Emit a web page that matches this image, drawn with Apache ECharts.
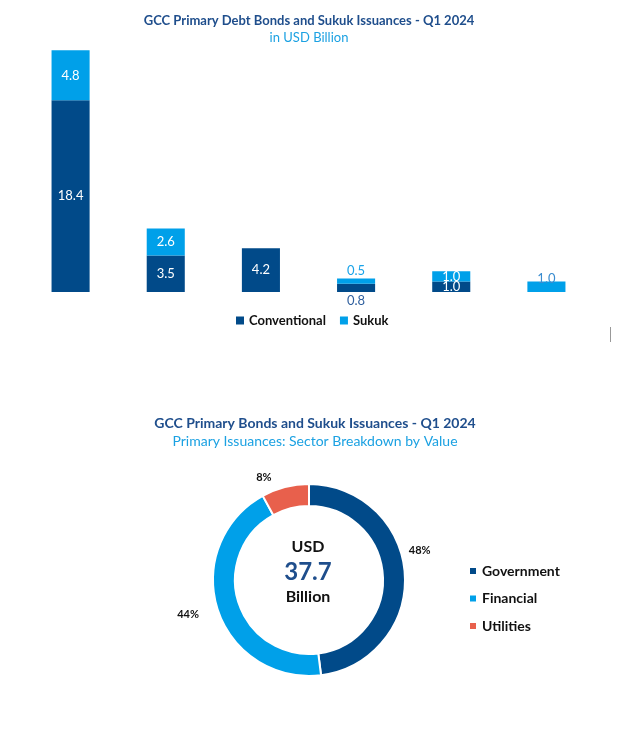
<!DOCTYPE html>
<html>
<head>
<meta charset="utf-8">
<script src="https://cdn.jsdelivr.net/npm/echarts@6/dist/echarts.min.js"></script>
<style>html,body{margin:0;padding:0;background:#fff}#c{width:640px;height:735px}</style>
</head>
<body>
<div id="c"></div>
<script>
const categories = ['Cat 1', 'Cat 2', 'Cat 3', 'Cat 4', 'Cat 5', 'Cat 6'];
const conventional = [18.4, 3.5, 4.2, 0.8, 1.0, null];
const sukuk = [4.8, 2.6, null, 0.5, 1.0, 1.0];
const sectors = ['Government', 'Financial', 'Utilities'];
const sectorShares = [48, 44, 8];
const totalIssuance = 37.7;

const DARK = '#014a89', LIGHT = '#00a0e9', RED = '#e8604c';
const FONT = 'Lato';
const fmt1 = p => Number(p.value).toFixed(1);

const convData = conventional.map((v, i) => {
  if (v === null) return '-';
  if (i === 3) return { value: v, label: { position: 'bottom', color: '#2f5f9e', distance: 2 } };
  return v;
});
const sukukData = sukuk.map((v, i) => {
  if (v === null) return '-';
  if (i === 3) return { value: v, label: { position: 'top', color: '#1aa3e8', distance: 1 } };
  if (i === 5) return { value: v, label: { color: '#3a8ccf', offset: [0, -8] } };
  return v;
});

// small label nudges for the donut percentages (Excel best-fit placement)
const pieLabelShift = [[-7, -23], [-8, 3], [-7, -4]];

const chart = echarts.init(document.getElementById('c'), null, { renderer: 'canvas' });
chart.setOption({
  animation: false,
  textStyle: { fontFamily: FONT },
  grid: { left: 23, width: 571, top: 42, height: 250 },
  xAxis: { type: 'category', data: categories, show: false },
  yAxis: { type: 'value', min: 0, max: 24, show: false },
  legend: [{
    data: ['Conventional', 'Sukuk'],
    left: 231, top: 309,
    icon: 'rect', itemWidth: 8, itemHeight: 8, itemGap: 14,
    textStyle: { fontFamily: FONT, fontWeight: 'bold', fontSize: 13, color: '#111' }
  }, {
    data: sectors,
    orient: 'vertical',
    left: 463, top: 559,
    icon: 'rect', itemWidth: 8, itemHeight: 8, itemGap: 13.5,
    textStyle: { fontFamily: FONT, fontWeight: 'bold', fontSize: 14, color: '#111' }
  }],
  series: [{
    name: 'Conventional', type: 'bar', stack: 'total', barWidth: '40%',
    data: convData,
    itemStyle: { color: DARK },
    label: { show: true, position: 'inside', color: '#fff', fontSize: 13, fontFamily: FONT, formatter: fmt1 }
  }, {
    name: 'Sukuk', type: 'bar', stack: 'total', barWidth: '40%',
    data: sukukData,
    itemStyle: { color: LIGHT },
    label: { show: true, position: 'inside', color: '#fff', fontSize: 13, fontFamily: FONT, formatter: fmt1 }
  }, {
    name: 'Sector', type: 'pie',
    center: [309, 580], radius: [74, 96],
    startAngle: 90, clockwise: true,
    avoidLabelOverlap: false,
    itemStyle: { borderColor: '#fff', borderWidth: 2 },
    color: [DARK, LIGHT, RED],
    data: sectors.map((n, i) => ({ name: n, value: sectorShares[i] })),
    label: { show: true, position: 'outside', formatter: '{c}%', fontSize: 11, fontWeight: 'bold', color: '#111', fontFamily: FONT },
    labelLine: { show: false, length: 6, length2: 0 },
    labelLayout: p => ({ dx: pieLabelShift[p.dataIndex][0], dy: pieLabelShift[p.dataIndex][1] })
  }],
  graphic: [
    { type: 'text', x: 309, y: 21, style: { text: 'GCC Primary Debt Bonds and Sukuk Issuances - Q1 2024', align: 'center', verticalAlign: 'middle', fill: '#1f4e8c', font: 'bold 13px Lato' } },
    { type: 'text', x: 309, y: 38, style: { text: 'in USD Billion', align: 'center', verticalAlign: 'middle', fill: '#1ba1e2', font: '13px Lato' } },
    { type: 'text', x: 315, y: 423, style: { text: 'GCC Primary Bonds and Sukuk Issuances - Q1 2024', align: 'center', verticalAlign: 'middle', fill: '#1f4e8c', font: 'bold 14px Lato' } },
    { type: 'text', x: 315, y: 441, style: { text: 'Primary Issuances: Sector Breakdown by Value', align: 'center', verticalAlign: 'middle', fill: '#1ba1e2', font: '14px Lato' } },
    { type: 'text', x: 308, y: 547, style: { text: 'USD', align: 'center', verticalAlign: 'middle', fill: '#111', font: 'bold 16px Lato' } },
    { type: 'text', x: 308, y: 572, style: { text: totalIssuance.toFixed(1), align: 'center', verticalAlign: 'middle', fill: '#1f4e8c', font: 'bold 24px Lato' } },
    { type: 'text', x: 308, y: 597, style: { text: 'Billion', align: 'center', verticalAlign: 'middle', fill: '#111', font: 'bold 16px Lato' } },
    { type: 'line', shape: { x1: 610.5, y1: 327, x2: 610.5, y2: 342 }, style: { stroke: '#999', lineWidth: 1 } }
  ]
});
</script>
</body>
</html>
